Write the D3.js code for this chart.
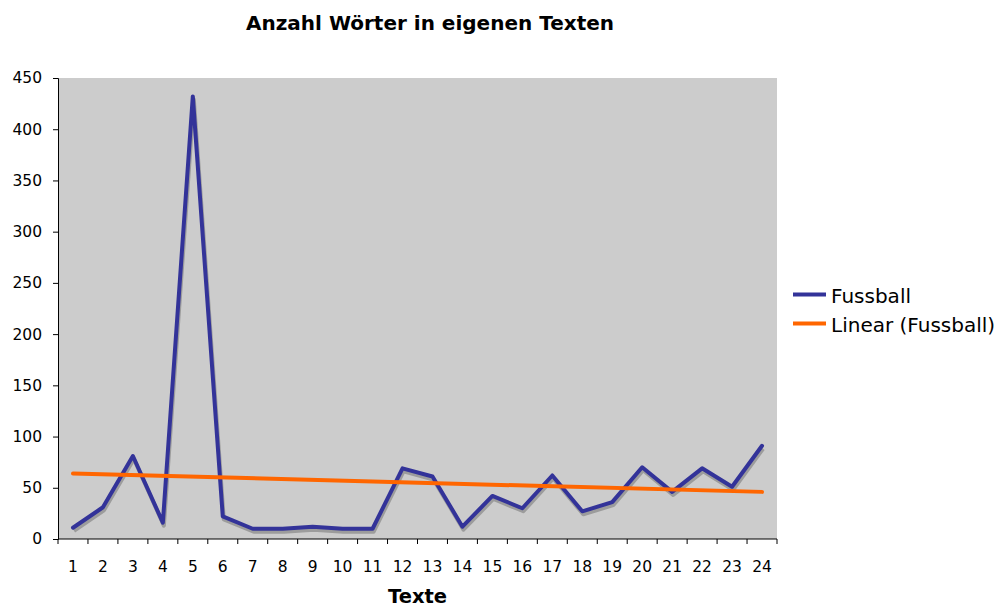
<!DOCTYPE html>
<html>
<head>
<meta charset="utf-8">
<script src="https://cdn.jsdelivr.net/npm/d3@7"></script>
<style>
  body { margin: 0; background: #fff; }
  svg text { font-family: "DejaVu Sans", Verdana, sans-serif; fill: #000; }
</style>
</head>
<body>
<svg id="chart" width="998" height="608"></svg>
<script>
const texte = d3.range( 1, 25 ).map( String );
const fussball = [ 11, 31, 81, 16, 432, 22, 10, 10, 12, 10, 10, 69, 61, 12, 42, 30, 62, 27, 36, 70, 46, 69, 51, 91 ];
const trendEnds = [ 64, 46 ];
const yTicks = [ 0, 50, 100, 150, 200, 250, 300, 350, 400, 450 ];
const seriesNames = [ "Fussball", "Linear (Fussball)" ];
const seriesColors = [ "#333399", "#ff6600" ];

const svg = d3.select( "#chart" );
const MARGINS = { top: 78, right: 221, bottom: 69, left: 58 };
const WIDTH = 998;
const HEIGHT = 608;

const xScale = d3.scaleBand()
  .domain( texte )
  .range( [ MARGINS.left, WIDTH - MARGINS.right ] );
const yScale = d3.scaleLinear()
  .domain( [ 0, 450 ] )
  .range( [ HEIGHT - MARGINS.bottom, MARGINS.top ] );

svg.append( "rect" )
  .attr( "x", MARGINS.left )
  .attr( "y", MARGINS.top )
  .attr( "width", WIDTH - MARGINS.right - MARGINS.left )
  .attr( "height", HEIGHT - MARGINS.bottom - MARGINS.top )
  .attr( "fill", "#cccccc" );

// y axis
const yAxis = d3.axisLeft( yScale ).tickValues( yTicks ).tickSize( 5 ).tickPadding( 11 );
const gy = svg.append( "g" )
  .attr( "transform", `translate(${MARGINS.left},0)` )
  .call( yAxis );
gy.selectAll( "text" ).style( "font-size", "15.5px" );
gy.select( ".domain" ).attr( "stroke", "#000" );

// x axis with ticks on band boundaries
const gx = svg.append( "g" )
  .attr( "transform", `translate(0,${HEIGHT - MARGINS.bottom})` );
gx.append( "line" )
  .attr( "x1", MARGINS.left ).attr( "x2", WIDTH - MARGINS.right )
  .attr( "stroke", "#000" );
const bounds = texte.map( t => xScale( t ) ).concat( [ xScale.range()[1] ] );
gx.selectAll( "line.tk" )
  .data( bounds )
  .enter()
  .append( "line" )
  .attr( "class", "tk" )
  .attr( "x1", d => d ).attr( "x2", d => d )
  .attr( "y1", 0 ).attr( "y2", 5 )
  .attr( "stroke", "#000" );
gx.selectAll( "text" )
  .data( texte )
  .enter()
  .append( "text" )
  .attr( "x", d => xScale( d ) + xScale.bandwidth() / 2 )
  .attr( "y", 33 )
  .attr( "text-anchor", "middle" )
  .style( "font-size", "15.5px" )
  .text( d => d );

const cx = d => xScale( d ) + xScale.bandwidth() / 2;
const lineFunc = d3.line()
  .x( ( d, i ) => cx( texte[i] ) )
  .y( d => yScale( d ) );

// shadow
svg.append( "path" )
  .attr( "d", lineFunc( fussball ) )
  .attr( "transform", "translate(1,3)" )
  .attr( "stroke", "#888" )
  .attr( "stroke-opacity", 0.7 )
  .attr( "stroke-width", 4 )
  .attr( "stroke-linejoin", "round" )
  .attr( "fill", "none" );

svg.append( "path" )
  .attr( "d", lineFunc( fussball ) )
  .attr( "stroke", seriesColors[0] )
  .attr( "stroke-width", 4 )
  .attr( "stroke-linejoin", "round" )
  .attr( "stroke-linecap", "round" )
  .attr( "fill", "none" );

const trendX = [ texte[0], texte[texte.length - 1] ];
svg.append( "line" )
  .attr( "x1", cx( trendX[0] ) ).attr( "y1", yScale( trendEnds[0] ) )
  .attr( "x2", cx( trendX[1] ) ).attr( "y2", yScale( trendEnds[1] ) )
  .attr( "stroke", seriesColors[1] )
  .attr( "stroke-width", 4 )
  .attr( "stroke-linecap", "round" );

// titles
svg.append( "text" )
  .attr( "x", 430 ).attr( "y", 30 )
  .attr( "text-anchor", "middle" )
  .style( "font-size", "20px" ).style( "font-weight", "bold" )
  .text( "Anzahl Wörter in eigenen Texten" );

svg.append( "text" )
  .attr( "x", ( MARGINS.left + WIDTH - MARGINS.right ) / 2 ).attr( "y", 603 )
  .attr( "text-anchor", "middle" )
  .style( "font-size", "19.5px" ).style( "font-weight", "bold" )
  .text( "Texte" );

// legend
const legend = svg.append( "g" ).attr( "transform", "translate(793,294.5)" );
seriesNames.forEach( ( name, i ) => {
  const g = legend.append( "g" ).attr( "transform", `translate(0,${i * 29})` );
  g.append( "line" )
    .attr( "x1", 0 ).attr( "x2", 33 )
    .attr( "stroke", seriesColors[i] )
    .attr( "stroke-width", 4 );
  g.append( "text" )
    .attr( "x", 38 ).attr( "y", 8 )
    .style( "font-size", "20px" )
    .text( name );
} );
</script>
</body>
</html>
